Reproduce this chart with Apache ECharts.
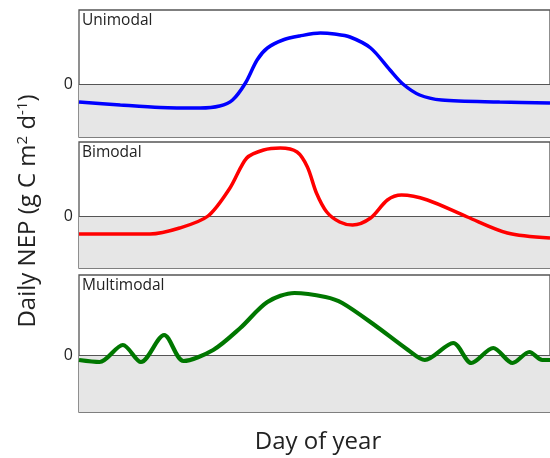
<!DOCTYPE html>
<html><head><meta charset="utf-8">
<script src="https://cdn.jsdelivr.net/npm/echarts@6/dist/echarts.min.js"></script>
<style>html,body{margin:0;padding:0;background:#fff}#c{width:550px;height:458px}</style>
</head><body><div id="c"></div>
<script>
// Day of year and daily NEP (arbitrary units)
const uniDays = [0, 32, 63, 94, 109, 119, 129, 138, 146, 158, 171, 187, 198, 210, 226, 241, 251, 264, 281, 326, 365];
const uniNEP  = [-1.8, -2.1, -2.35, -2.4, -2.2, -1.6, 0.1, 2.4, 3.6, 4.4, 4.8, 5.1, 5.0, 4.7, 3.6, 1.4, 0, -1.1, -1.6, -1.8, -1.9];

const biDays = [0, 55, 78, 100, 117, 130, 143, 156, 169, 177, 184, 192, 202, 212, 226, 239, 250, 270, 301, 332, 365];
const biNEP  = [-1.8, -1.8, -1.2, 0, 2.8, 5.8, 6.6, 6.8, 6.4, 4.9, 2.3, 0.4, -0.6, -0.9, -0.2, 1.6, 2.1, 1.6, -0.1, -1.7, -2.2];

const multiDays = [0, 16, 34, 48, 66, 81, 104, 125, 146, 167, 191, 204, 229, 255, 268, 290, 304, 321, 336, 349, 359, 365];
const multiNEP  = [-0.5, -0.7, 1.0, -0.7, 2.0, -0.6, 0.5, 2.7, 5.3, 6.2, 5.8, 5.2, 3.0, 0.5, -0.5, 1.2, -0.8, 0.7, -0.8, 0.3, -0.5, -0.5];

const panelNames = ['Unimodal', 'Bimodal', 'Multimodal'];
const zeroTick = [0];

const panels = [
  {days: uniDays, vals: uniNEP, color: '#0000ff', width: 3.5, min: -5.3, max: 7.4, top: 10, height: 127},
  {days: biDays, vals: biNEP, color: '#ff0000', width: 3.5, min: -5.2, max: 7.4, top: 142, height: 126},
  {days: multiDays, vals: multiNEP, color: '#007700', width: 4.2, min: -5.7, max: 8.0, top: 275, height: 137}
];

const FONT = '"Open Sans", sans-serif';
const grid = [], xAxis = [], yAxis = [], series = [], title = [];
panels.forEach((p, i) => {
  grid.push({left: 79, right: -2, top: p.top, height: p.height, show: true,
    borderColor: '#555', borderWidth: 1.3, backgroundColor: '#fff', containLabel: false});
  xAxis.push({type: 'value', gridIndex: i, min: 0, max: 365, show: false});
  yAxis.push({type: 'value', gridIndex: i, min: p.min, max: p.max,
    axisLine: {show: false}, axisTick: {show: false}, splitLine: {show: false},
    axisLabel: {customValues: zeroTick, formatter: v => Math.abs(v) < 1e-9 ? '0' : '',
      fontFamily: FONT, fontSize: 16, color: '#222', margin: 6}});
  series.push({type: 'line', xAxisIndex: i, yAxisIndex: i, smooth: 0.3, symbol: 'none',
    data: p.days.map((d, k) => [d, p.vals[k]]),
    lineStyle: {color: p.color, width: p.width}, z: 5,
    markArea: {silent: true, itemStyle: {color: '#e6e6e6'},
      data: [[{yAxis: p.min}, {yAxis: 0}]]},
    markLine: {silent: true, symbol: 'none', label: {show: false},
      lineStyle: {color: '#555', width: 1.2, type: 'solid'}, data: [{yAxis: 0}]}
  });
  title.push({text: panelNames[i], left: 82, top: p.top + 3, padding: 0,
    textStyle: {fontFamily: FONT, fontSize: 15.5, fontWeight: 'normal', color: '#222'}});
});

const chart = echarts.init(document.getElementById('c'), null, {renderer: 'canvas'});
chart.setOption({
  animation: false,
  backgroundColor: '#fff',
  title, grid, xAxis, yAxis, series,
  graphic: [
    {type: 'text', x: 318, y: 442, style: {text: 'Day of year', font: '24px ' + FONT,
      fill: '#222', align: 'center', verticalAlign: 'middle'}},
    {type: 'text', x: 28, y: 211, rotation: Math.PI / 2,
      style: {text: '{n|Daily NEP (g C m}{s|2}{n| d}{s|-1}{n|)}',
        align: 'center', verticalAlign: 'middle', fill: '#222',
        rich: {n: {fontFamily: FONT, fontSize: 24, lineHeight: 26, fill: '#222'},
               s: {fontFamily: FONT, fontSize: 15, lineHeight: 15, verticalAlign: 'top', fill: '#222'}}}}
  ]
});
</script></body></html>
